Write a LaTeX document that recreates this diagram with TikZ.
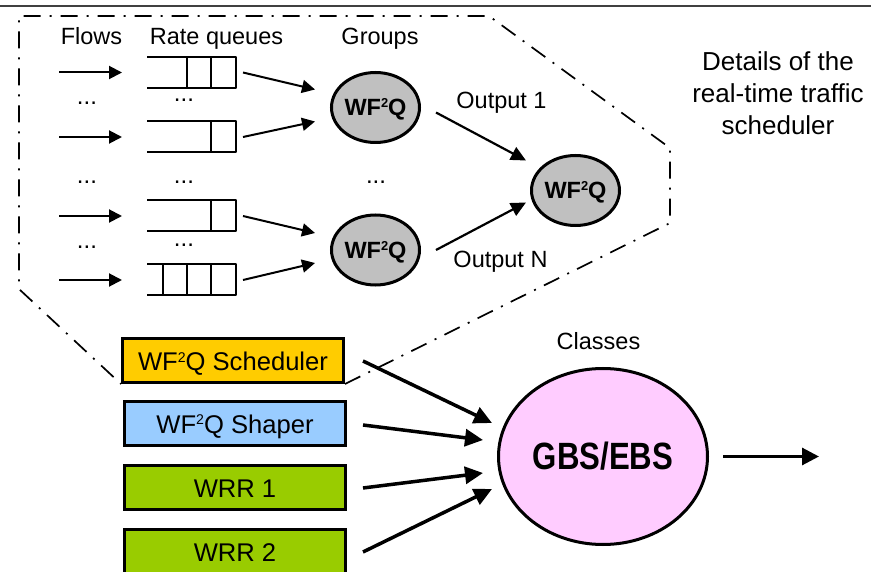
\documentclass[tikz,border=0pt]{standalone}
\usepackage{fontspec}
\setmainfont{Liberation Sans}
\usepackage{graphicx}
\usetikzlibrary{arrows.meta,shapes.geometric}

\definecolor{schedfill}{HTML}{FFCC00}
\definecolor{shapefill}{HTML}{99CCFF}
\definecolor{wrrfill}{HTML}{99CC00}
\definecolor{classfill}{HTML}{FFCCFF}
\definecolor{groupfill}{HTML}{C0C0C0}

\newcommand{\fsz}[1]{\fontsize{#1}{#1}\selectfont}
% small raised "2" whose top lines up with the capitals
\newcommand{\suptwo}{\raisebox{0.33em}{\scalebox{0.55}{2}}}

\begin{document}
\begin{tikzpicture}[x=1pt,y=-1pt,
  lbl/.style={font=\fsz{23.5}, inner sep=0pt, anchor=base},
  dotsep/.style={font=\fsz{24}, inner sep=0pt, anchor=base},
  wfq/.style={ellipse, draw, line width=3pt, fill=groupfill, minimum width=88pt,
    minimum height=70pt, inner sep=0pt, font=\fsz{23.5}\bfseries,
    text height=16.5pt, text depth=0pt},
  classbox/.style={draw, line width=3pt, minimum width=221pt, minimum height=44pt,
    inner sep=0pt, font=\fsz{25.6}, text height=20pt, text depth=0pt},
  qbox/.style={minimum width=89pt, minimum height=31pt, inner sep=0pt, outer sep=0pt},
  qline/.style={line width=2pt, line join=round},
  thinarrow/.style={line width=2pt, -{Triangle[length=13pt,width=13pt]}},
  midarrow/.style={line width=2.2pt, -{Triangle[length=15pt,width=14pt]}},
  thickarrow/.style={line width=3.5pt, -{Triangle[length=18pt,width=17pt]}},
  frameline/.style={line width=1.7pt, dash pattern=on 17pt off 9pt on 2pt off 9pt}
]
\fill[white] (0,0) rectangle (871,572);
\path[use as bounding box] (0,0) rectangle (871,572);

% top rule
\draw[line width=1.2pt, black!75] (0,6) -- (871,6);

% column headings
\node[lbl] (lflows) at (91.5,45) {Flows};
\node[lbl] (lrate) at (216.5,45) {Rate queues};
\node[lbl] (lgroups) at (380,45) {Groups};

% rate queues
\node[qbox] (q1) at (191.5,72.5) {};
\node[qbox] (q2) at (191.5,137) {};
\node[qbox] (q3) at (191.5,216) {};
\node[qbox] (q4) at (191.5,280) {};
\foreach \q in {q1,q2,q3,q4}{
  \draw[qline] (\q.north west) -- (\q.north east) -- (\q.south east) -- (\q.south west);
  \draw[qline] ([xshift=-25pt]\q.north east) -- ([xshift=-25pt]\q.south east);
}
\draw[qline] ([xshift=-49pt]q1.north east) -- ([xshift=-49pt]q1.south east);
\draw[qline] ([xshift=-49pt]q4.north east) -- ([xshift=-49pt]q4.south east);
\draw[qline] ([xshift=-73pt]q4.north east) -- ([xshift=-73pt]q4.south east);

% incoming flows
\foreach \q in {q1,q2,q3,q4}{
  \draw[thinarrow] ([xshift=-88pt]\q.west) -- ([xshift=-25pt]\q.west);
}

% ellipsis marks
\node[dotsep] (d1) at (87,104.5) {...};
\node[dotsep] (d2) at (87,183.5) {...};
\node[dotsep] (d3) at (87,248.5) {...};
\node[dotsep] (d4) at (184,101.5) {...};
\node[dotsep] (d5) at (184,183.5) {...};
\node[dotsep] (d6) at (184,246.5) {...};
\node[dotsep] (d7) at (376,183.5) {...};

% group schedulers
\node[wfq] (g1) at (375.5,107.5) {WF\suptwo Q};
\node[wfq] (g2) at (375.5,250) {WF\suptwo Q};
\node[wfq] (gout) at (575.5,190.5) {WF\suptwo Q};

\draw[thinarrow] ([xshift=7pt]q1.east) -- ([shift={(-15,-18)}]g1.west);
\draw[thinarrow] ([xshift=7pt]q2.east) -- ([shift={(-15,14)}]g1.west);
\draw[thinarrow] ([xshift=7pt]q3.east) -- ([shift={(-15,-17)}]g2.west);
\draw[thinarrow] ([xshift=7pt]q4.east) -- ([shift={(-15,13)}]g2.west);

\draw[midarrow] ([shift={(15,5)}]g1.east) -- ([shift={(-4,-30)}]gout.west);
\draw[midarrow] ([shift={(15,0)}]g2.east) -- ([shift={(-4,12)}]gout.west);

\node[lbl] (lout1) at (501.5,109) {Output 1};
\node[lbl] (loutn) at (500.5,268) {Output N};

% caption of the detail view (base anchor = last line)
\node[font=\fontsize{26}{32}\selectfont, align=center, inner sep=0pt, anchor=base] (ldet) at (778,135)
  {Details of the\\real-time traffic\\scheduler};

% class schedulers
\node[classbox, fill=schedfill] (sched) at (233,360.5) {WF\suptwo Q Scheduler};
\node[classbox, fill=shapefill] (shaper) at (235,423) {WF\suptwo Q Shaper};
\node[classbox, fill=wrrfill] (wrr1) at (235,487.5) {WRR 1};
\node[classbox, fill=wrrfill] (wrr2) at (235,551) {WRR 2};

% detail frame around the real-time scheduler
\draw[frameline] (sched.south east) -- (670,223) -- (670,148) -- (489,16)
  -- (19,16) -- (19,289) -- (sched.south west);

% class level scheduler
\node[lbl] (lclasses) at (598.5,350) {Classes};
\node[ellipse, draw, line width=3pt, fill=classfill, minimum width=209pt,
  minimum height=176pt, inner sep=0pt] (gbs) at (603,456.5)
  {\scalebox{0.82}[1]{\fsz{38}\bfseries GBS/EBS}};

\draw[thickarrow] ([shift={(18,0.5)}]sched.east) -- ([shift={(-5,-33.5)}]gbs.west);
\draw[thickarrow] ([shift={(16,2)}]shaper.east) -- ([shift={(-14,-16.5)}]gbs.west);
\draw[thickarrow] ([shift={(16,0.5)}]wrr1.east) -- ([shift={(-14,16.5)}]gbs.west);
\draw[thickarrow] ([shift={(16,1)}]wrr2.east) -- ([shift={(-5,32.5)}]gbs.west);

\coordinate (sink) at (819,456.5);
\draw[line width=3pt, -{Triangle[length=17pt,width=17pt]}] ([xshift=14pt]gbs.east) -- (sink);
\end{tikzpicture}
\end{document}
